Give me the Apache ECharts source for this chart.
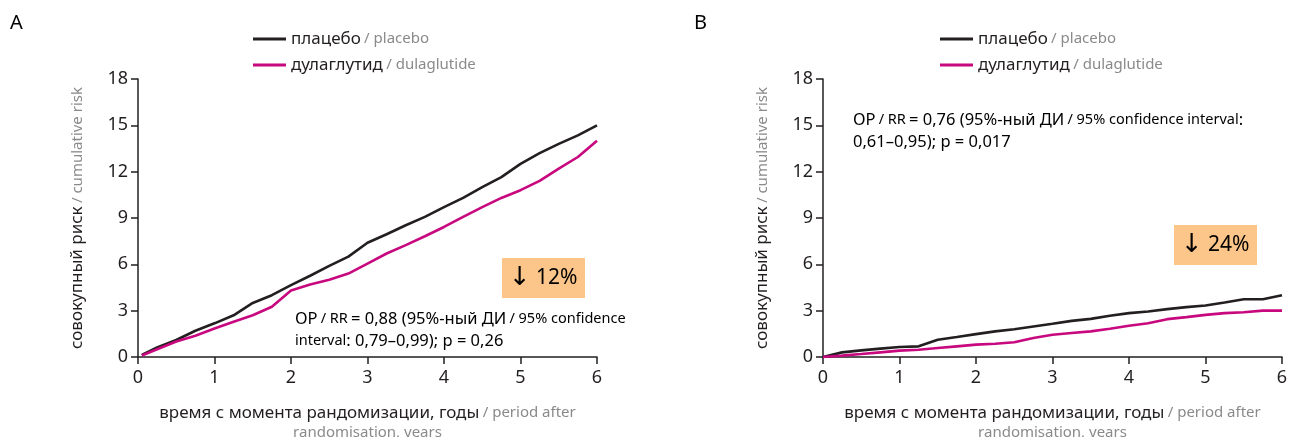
<!DOCTYPE html>
<html>
<head>
<meta charset="utf-8">
<script src="https://cdn.jsdelivr.net/npm/echarts@6/dist/echarts.min.js"></script>
<style>
  html, body { margin: 0; padding: 0; background: #fff; }
  #chart { width: 1293px; height: 437px; }
</style>
</head>
<body>
<div id="chart"></div>
<script>
// panel A
var timesA = [0.05, 0.25, 0.5, 0.75, 1, 1.25, 1.5, 1.75, 2, 2.25, 2.5, 2.75, 3, 3.25, 3.5, 3.75, 4, 4.25, 4.5, 4.75, 5, 5.25, 5.5, 5.75, 6];
var placeboA = [0.13, 0.62, 1.1, 1.7, 2.18, 2.7, 3.5, 4.0, 4.65, 5.26, 5.9, 6.5, 7.4, 7.95, 8.53, 9.07, 9.7, 10.3, 11.0, 11.65, 12.5, 13.2, 13.8, 14.35, 15.0];
var dulaA = [0.1, 0.5, 1.0, 1.38, 1.85, 2.28, 2.7, 3.25, 4.3, 4.7, 5.0, 5.4, 6.05, 6.7, 7.24, 7.82, 8.42, 9.07, 9.7, 10.3, 10.8, 11.4, 12.2, 12.95, 14.0];

// panel B
var timesB = [0, 0.25, 0.5, 0.75, 1, 1.25, 1.5, 1.75, 2, 2.25, 2.5, 2.75, 3, 3.25, 3.5, 3.75, 4, 4.25, 4.5, 4.75, 5, 5.25, 5.5, 5.75, 6];
var placeboB = [0, 0.3, 0.43, 0.54, 0.65, 0.69, 1.12, 1.29, 1.48, 1.66, 1.8, 1.98, 2.15, 2.34, 2.47, 2.67, 2.84, 2.95, 3.1, 3.23, 3.33, 3.53, 3.74, 3.74, 4.0];
var dulaB = [0, 0.09, 0.19, 0.3, 0.41, 0.47, 0.58, 0.69, 0.8, 0.86, 0.95, 1.23, 1.44, 1.55, 1.66, 1.83, 2.02, 2.19, 2.45, 2.58, 2.73, 2.84, 2.9, 3.0, 3.0];

var seriesNames = ['плацебо', 'дулаглутид'];
var seriesNamesEn = ['placebo', 'dulaglutide'];
var xTicks = { min: 0, max: 6, interval: 1 };
var yTicks = { min: 0, max: 18, interval: 3 };

var FONT = 'Noto Sans';
var DARK = '#231f20';
var GREY = '#8a8a8a';
var MAGENTA = '#c8087e';

function pairs(xs, ys) {
  return xs.map(function (x, i) { return [x, ys[i]]; });
}

var richText = {
  r: { color: DARK, fontSize: 17, fontFamily: FONT },
  e: { color: GREY, fontSize: 15, fontFamily: FONT }
};

function makeX(gridIndex) {
  return {
    gridIndex: gridIndex, type: 'value',
    min: xTicks.min, max: xTicks.max, interval: xTicks.interval,
    splitLine: { show: false },
    axisLine: { lineStyle: { color: DARK, width: 1.5 } },
    axisTick: { length: 7, lineStyle: { color: DARK, width: 1.5 } },
    axisLabel: { color: DARK, fontSize: 18, fontFamily: FONT, margin: 12 },
    name: '{r|время с момента рандомизации, годы} {e|/ period after}\n{e|randomisation, years}',
    nameLocation: 'middle', nameGap: 46,
    nameTextStyle: { rich: richText, lineHeight: 20 }
  };
}

function makeY(gridIndex) {
  return {
    gridIndex: gridIndex, type: 'value',
    min: yTicks.min, max: yTicks.max, interval: yTicks.interval,
    splitLine: { show: false },
    axisLine: { lineStyle: { color: DARK, width: 1.5 } },
    axisTick: { length: 7, lineStyle: { color: DARK, width: 1.5 } },
    axisLabel: { color: DARK, fontSize: 18, fontFamily: FONT, margin: 10 },
    name: '{r|совокупный риск} {e|/ cumulative risk}',
    nameLocation: 'middle', nameRotate: 90, nameGap: 52,
    nameTextStyle: { rich: richText }
  };
}

function makeLegend(left) {
  return {
    left: left, top: 24, orient: 'vertical',
    data: seriesNames,
    icon: 'rect', itemWidth: 33, itemHeight: 3, itemGap: 6,
    selectedMode: false,
    formatter: function (name) {
      var i = seriesNames.indexOf(name);
      return '{r|' + name + '} {e|/ ' + seriesNamesEn[i] + '}';
    },
    textStyle: { lineHeight: 20, rich: richText }
  };
}

function line(name, gridIndex, xs, ys, color) {
  return {
    name: name, type: 'line',
    xAxisIndex: gridIndex, yAxisIndex: gridIndex,
    data: pairs(xs, ys),
    showSymbol: false, symbol: 'none',
    itemStyle: { color: color },
    lineStyle: { color: color, width: 2.6 },
    silent: true, animation: false
  };
}

function txt(x, y, rich, str, align) {
  return {
    type: 'text', x: x, y: y,
    style: { text: str, rich: rich, align: align || 'left', verticalAlign: 'middle', fontFamily: FONT }
  };
}

var statRich = {
  r: { color: DARK, fontSize: 16.5, fontFamily: FONT },
  e: { color: GREY, fontSize: 14.5, fontFamily: FONT }
};
var boxRich = {
  a: { color: DARK, fontSize: 26, fontFamily: 'DejaVu Sans' },
  r: { color: DARK, fontSize: 21, fontFamily: FONT }
};

var chart = echarts.init(document.getElementById('chart'));
chart.setOption({
  backgroundColor: '#fff',
  animation: false,
  legend: [makeLegend(248), makeLegend(935)],
  grid: [
    { left: 138, top: 79, width: 459, height: 278, outerBoundsMode: 'none', containLabel: false },
    { left: 823, top: 79, width: 459, height: 278, outerBoundsMode: 'none', containLabel: false }
  ],
  xAxis: [makeX(0), makeX(1)],
  yAxis: [makeY(0), makeY(1)],
  series: [
    line(seriesNames[0], 0, timesA, placeboA, DARK),
    line(seriesNames[1], 0, timesA, dulaA, MAGENTA),
    line(seriesNames[0], 1, timesB, placeboB, DARK),
    line(seriesNames[1], 1, timesB, dulaB, MAGENTA)
  ],
  graphic: [
    txt(10, 23, { r: { color: DARK, fontSize: 20, fontFamily: FONT } }, '{r|A}'),
    txt(694, 23, { r: { color: DARK, fontSize: 20, fontFamily: FONT } }, '{r|B}'),
    { type: 'rect', shape: { x: 502, y: 258, width: 83, height: 40 }, style: { fill: '#fcc589' } },
    txt(543, 278, boxRich, '{a|↓}{r| 12%}', 'center'),
    { type: 'rect', shape: { x: 1174, y: 225, width: 83, height: 40 }, style: { fill: '#fcc589' } },
    txt(1215, 245, boxRich, '{a|↓}{r| 24%}', 'center'),
    txt(295, 319, statRich, '{r|ОР} {e|/ RR} {r|= 0,88 (95%-ный ДИ} {e|/ 95% confidence}'),
    txt(295, 341, statRich, '{e|interval}{r|: 0,79–0,99); p = 0,26}'),
    txt(853, 120, statRich, '{r|ОР} {e|/ RR} {r|= 0,76 (95%-ный ДИ} {e|/ 95% confidence interval}{r|:}'),
    txt(853, 142, statRich, '{r|0,61–0,95); p = 0,017}')
  ]
});
</script>
</body>
</html>
